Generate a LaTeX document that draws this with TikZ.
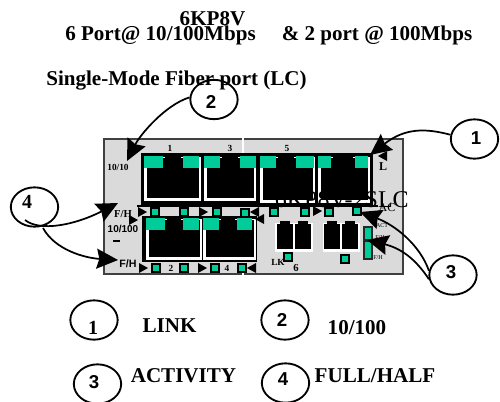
\documentclass[tikz,border=0pt]{standalone}
\usepackage{fontspec}
\setmainfont{Liberation Serif}
\setsansfont{Liberation Sans}
\usetikzlibrary{arrows.meta,shapes.geometric}
\definecolor{ledgreen}{HTML}{00CC99}
\definecolor{panelgray}{HTML}{DADADA}
\definecolor{paneledge}{HTML}{404040}
\tikzset{
  ring/.style={draw,line width=1.4pt,ellipse,minimum width=35.5pt,minimum height=29.5pt,inner sep=0pt},
  title/.style={font=\bfseries\fontsize{15.8}{16}\selectfont,inner sep=0pt},
  num/.style={font=\sffamily\bfseries\fontsize{14}{14}\selectfont,inner sep=0pt},
  numserif/.style={font=\bfseries\fontsize{15}{15}\selectfont,inner sep=0pt},
  tiny/.style={font=\bfseries\fontsize{7}{7}\selectfont,inner sep=0pt},
  micro/.style={font=\fontsize{4.5}{5}\selectfont,inner sep=0pt},
  ledbox/.style={draw=black,line width=1.6pt,fill=ledgreen,minimum size=6pt,inner sep=0pt},
  lead/.style={line width=1.3pt,-{Stealth[length=16pt,width=15pt,inset=2pt]}}
}
% one RJ45 socket with its two green tabs
\newcommand{\rjport}[7]{
  \fill[white] (#1,#3) rectangle (#2,#4);
  \fill[black] (#1+3,#3+1) rectangle (#2-2,#4-3);
  \fill[black] (#5+2,#3-1) rectangle (#6-2,#3+2);
  \fill[ledgreen] (#1,#3-1) rectangle (#5,#3+11);
  \fill[ledgreen] (#6,#3-1) rectangle (#7,#3+11);
}
\newcommand{\tright}[2]{\fill (#1-4,#2-5) -- (#1+5,#2) -- (#1-4,#2+5) -- cycle;}
\newcommand{\tleft}[2]{\fill (#1+4,#2-5) -- (#1-5,#2) -- (#1+4,#2+5) -- cycle;}
\begin{document}
\begin{tikzpicture}[x=0.75pt,y=-0.75pt]
  \useasboundingbox (0,0) rectangle (500,401);

  %titles
  \node[title] (model) at (212.5,18.5) {6KP8V};
  \node[title] (speedA) at (160.5,35) {6 Port@ 10/100Mbps};
  \node[title] (speedB) at (377,35) {\& 2 port @ 100Mbps};
  \node[title] (fiber) at (176.5,81) {Single-Mode Fiber port (LC)};

  %panel
  \draw[fill=panelgray,draw=paneledge,line width=1.5pt] (104,139) rectangle (403,274);
  \draw[white,line width=1.5pt] (243,138) -- (243,153) (243,270) -- (243,275);

  %frames
  \fill[black] (141,153) rectangle (373,205);
  \fill[black] (142,216) rectangle (257,262);
  \fill[black] (137,205) rectangle (378,207);

  %sockets
  \rjport{144}{201}{157}{201}{163}{183}{199}
  \rjport{204}{256}{157}{201}{220}{240}{256}
  \rjport{260}{315}{157}{203}{276}{296}{314}
  \rjport{318}{370}{157}{203}{331}{355}{368}
  \rjport{146}{202}{219}{260}{165}{183}{199}
  \rjport{203}{256}{219}{260}{219}{237}{252}

  %fiber sockets
  \fill[white] (275,223) rectangle (313,252);
  \fill[white] (323,223) rectangle (360,252);
  \foreach \fx in {277,295,324,342}{
    \fill[black] (\fx,224) rectangle (\fx+16,249);
    \fill[black] (\fx+3,221) rectangle (\fx+13,224);
  }

  %status bar
  \fill[black!85] (363,226) rectangle (373,260);
  \fill[ledgreen] (365,228) rectangle (371,239);
  \fill[ledgreen] (365,242) rectangle (371,258);

  %leds
  \foreach \lname/\lx/\ly in {la/155/212,lb/184/212,lc/217/212,ld/245/213,le/274/212,lf/305/212,lg/329/212,lh/357/211,%
    ma/156/268,mb/184/268,mc/215/268,md/242/268,me/288/257,mf/345/259}{
    \node[ledbox] (\lname) at (\lx,\ly) {};
  }

  %triangles
  \tright{142}{212} \tright{203}{212} \tright{317}{211} \tright{133}{220}
  \tright{143}{268} \tright{202}{268}
  \tleft{255}{212} \tleft{260}{219} \tleft{383}{156} \tleft{252}{268}

  %numbers on the panel
  \node[tiny] (pa) at (170,148) {1};
  \node[tiny] (pc) at (230,148) {3};
  \node[tiny] (pe) at (287,148) {5};
  \node[tiny] (pb) at (171,268) {2};
  \node[tiny] (pd) at (227,268) {4};
  \node[tiny,font=\bfseries\fontsize{8}{8}\selectfont] (pf) at (296,268) {6};
  \node[tiny] (lk) at (278,262) {LK};
  \node[tiny,font=\bfseries\fontsize{9}{9}\selectfont] (lnk) at (383,167) {L};
  \node[tiny,font=\fontsize{9}{9}\selectfont] (ac) at (387,208) {AC};
  \node[micro] (act) at (382,226) {ACT};
  \node[micro] (fha) at (380,238) {F/H};
  \node[micro] (fhb) at (378,258) {F/H};
  \node[tiny] (tenA) at (118,167) {10/10};
  \node[tiny,font=\bfseries\fontsize{8}{8}\selectfont] (fhc) at (123,214) {F/H};
  \node[tiny,font=\sffamily\bfseries\fontsize{7.5}{8}\selectfont] (tenB) at (123,229) {10/100};
  \node[tiny,font=\sffamily\bfseries\fontsize{8}{8}\selectfont] (fhd) at (128,264) {F/H};
  \fill (113,240) rectangle (120,242);

  %model name
  \node[inner sep=0pt,anchor=base east,font=\fontsize{18}{18}\selectfont] (name) at (409,207) {6KP8V-2SLC};

  %callouts
  \node[ring] (one) at (474.5,139) {};
  \node[num] (oneN) at (476,138) {1};
  \node[ring] (two) at (214,99.5) {};
  \node[num] (twoN) at (211,102) {2};
  \node[ring] (three) at (453,275) {};
  \node[num] (threeN) at (451,272) {3};
  \node[ring] (four) at (34.5,207) {};
  \node[numserif] (fourN) at (27,202) {4};

  %arrow ends
  \coordinate (tipone) at (370,155);
  \coordinate (tiptwo) at (127,161);
  \coordinate (tipthreeA) at (360,212);
  \coordinate (tipthreeB) at (367,240);
  \coordinate (tipfourA) at (118,203);
  \coordinate (tipfourB) at (118,260);
  \coordinate (startfourA) at (25,220);
  \coordinate (startfourB) at (43,228);

  \draw[lead] (one.170) .. controls (425,128) and (405,128) .. (tipone);
  \draw[lead] (two.175) .. controls (165,105) and (140,135) .. (tiptwo);
  \draw[lead] (three.170) .. controls (420,245) and (395,225) .. (tipthreeA);
  \draw[lead] (three.190) .. controls (415,258) and (400,248) .. (tipthreeB);
  \draw[lead] (startfourA) .. controls (40,232) and (75,225) .. (tipfourA);
  \draw[lead] (startfourB) .. controls (55,250) and (85,258) .. (tipfourB);

  %legend
  \node[ring] (legone) at (94,320) {};
  \node[numserif] (legoneN) at (93,328) {1};
  \node[title] (leglink) at (169.5,326) {LINK};
  \node[ring] (legtwo) at (285,320) {};
  \node[num] (legtwoN) at (282,320) {2};
  \node[title] (legten) at (357,328) {10/100};
  \node[ring] (legthree) at (97.5,384) {};
  \node[num] (legthreeN) at (94,382) {3};
  \node[title] (legact) at (183.5,376) {ACTIVITY};
  \node[ring] (legfour) at (285.5,383) {};
  \node[num] (legfourN) at (283,379) {4};
  \node[title] (legfull) at (375,376) {FULL/HALF};
\end{tikzpicture}
\end{document}
